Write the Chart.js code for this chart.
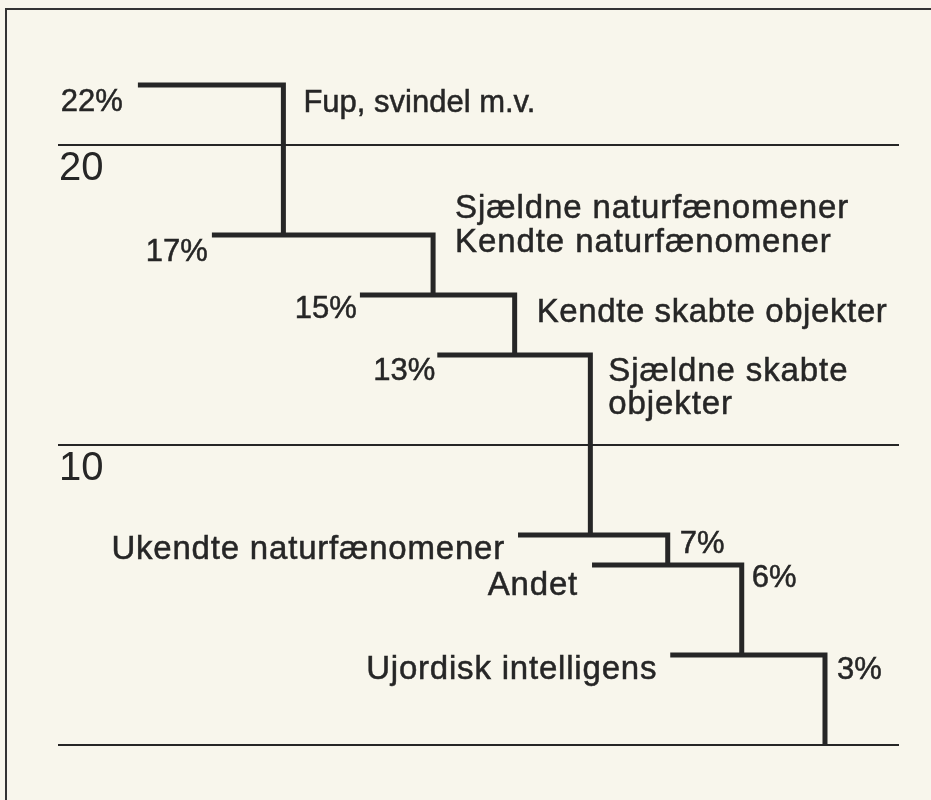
<!DOCTYPE html>
<html><head><meta charset="utf-8">
<script src="https://cdn.jsdelivr.net/npm/chart.js@4.4.1/dist/chart.umd.min.js"></script>
<style>html,body{margin:0;padding:0;background:#f8f6ec;} #wrap{width:931px;height:800px;position:relative}</style>
</head><body><div id="wrap"><canvas id="c" width="931" height="800"></canvas></div>
<script>
// ---- data ----
const values = [22, 17, 15, 13, 7, 6, 3];
const percentLabels = ['22%', '17%', '15%', '13%', '7%', '6%', '3%'];
const categories = [
  ['Fup, svindel m.v.'],
  ['Sjældne naturfænomener', 'Kendte naturfænomener'],
  ['Kendte skabte objekter'],
  ['Sjældne skabte', 'objekter'],
  ['Ukendte naturfænomener'],
  ['Andet'],
  ['Ujordisk intelligens']
];
// horizontal extent of each step (abstract 0-100 units, no meaning on x)
const stepFrom = [9.5, 18.3, 35.9, 45.1, 54.7, 63.5, 72.8];
const stepTo   = [26.8, 44.6, 54.3, 63.3, 72.5, 81.3, 91.2];
const yTickValues = [0, 10, 20];
const yTickLabels = ['', '10', '20'];

// ---- styles / layout ----
const INK = '#262626';
const FONT = '"Liberation Sans", Arial, Helvetica, sans-serif';
// label placement: pct side, gap, dy ; category side, gap, dys, font size, spacing
const place = [
  {p:'left', pg:15, pdy:26, c:'right', cg:20, cdy:[27], fs:31, ls:0},
  {p:'left', pg:4,  pdy:26, c:'right', cg:22, cdy:[-17, 17], fs:33, ls:0.9},
  {p:'left', pg:3,  pdy:23, c:'right', cg:22, cdy:[27], fs:33, ls:0.6},
  {p:'left', pg:2,  pdy:25, c:'right', cg:18, cdy:[26, 59], fs:33, ls:0.9},
  {p:'right', pg:12, pdy:18, c:'left', cg:13, cdy:[24], fs:33, ls:0.8},
  {p:'right', pg:10, pdy:22, c:'left', cg:14, cdy:[30], fs:33, ls:0.8},
  {p:'right', pg:12, pdy:24, c:'left', cg:13, cdy:[24], fs:33, ls:0.8}
];

const datasets = values.map((v, i) => ({
  data: [
    {x: stepFrom[i], y: v},
    {x: stepTo[i], y: v},
    {x: stepTo[i], y: i + 1 < values.length ? values[i + 1] : 0}
  ],
  showLine: true,
  borderColor: INK,
  borderWidth: 5,
  pointRadius: 0,
  borderJoinStyle: 'miter',
  borderCapStyle: 'butt',
  tension: 0,
  clip: false
}));

const paperPlugin = {
  id: 'paper',
  beforeDraw(chart) {
    const ctx = chart.ctx;
    ctx.save();
    ctx.fillStyle = '#f8f6ec';
    ctx.fillRect(0, 0, chart.width, chart.height);
    ctx.strokeStyle = '#333';
    ctx.lineWidth = 2;
    ctx.beginPath();
    ctx.moveTo(6, 800);
    ctx.lineTo(6, 9);
    ctx.lineTo(931, 9);
    ctx.stroke();
    ctx.restore();
  }
};

function inkText(ctx, s, x, y) {
  ctx.fillText(s, x, y);
  ctx.strokeText(s, x, y);
}

const labelPlugin = {
  id: 'stepLabels',
  afterDatasetsDraw(chart) {
    const ctx = chart.ctx;
    const xs = chart.scales.x, ys = chart.scales.y;
    ctx.save();
    ctx.fillStyle = INK;
    ctx.strokeStyle = INK;
    ctx.lineWidth = 0.5;
    ctx.textBaseline = 'alphabetic';
    values.forEach((v, i) => {
      const cfg = place[i];
      const yPix = ys.getPixelForValue(v);
      const xL = xs.getPixelForValue(stepFrom[i]);
      const xR = xs.getPixelForValue(stepTo[i]);
      ctx.font = '31px ' + FONT;
      ctx.letterSpacing = '0px';
      if (cfg.p === 'left') { ctx.textAlign = 'right'; inkText(ctx, percentLabels[i], xL - cfg.pg, yPix + cfg.pdy); }
      else { ctx.textAlign = 'left'; inkText(ctx, percentLabels[i], xR + cfg.pg, yPix + cfg.pdy); }
      ctx.font = cfg.fs + 'px ' + FONT;
      ctx.letterSpacing = cfg.ls + 'px';
      categories[i].forEach((line, k) => {
        if (cfg.c === 'right') { ctx.textAlign = 'left'; inkText(ctx, line, xR + cfg.cg, yPix + cfg.cdy[k]); }
        else { ctx.textAlign = 'right'; inkText(ctx, line, xL - cfg.cg, yPix + cfg.cdy[k]); }
      });
    });
    ctx.restore();
  }
};

new Chart(document.getElementById('c'), {
  type: 'scatter',
  data: { datasets },
  options: {
    responsive: false,
    animation: false,
    layout: { padding: { left: 56, right: 32, top: 21.2, bottom: 22.8 } },
    plugins: { legend: { display: false }, tooltip: { enabled: false } },
    scales: {
      x: { type: 'linear', display: false, min: 0, max: 100 },
      y: {
        type: 'linear', min: -1, max: 24,
        afterBuildTicks: (ax) => { ax.ticks = yTickValues.map(v => ({ value: v })); },
        grid: { color: INK, lineWidth: 2, drawTicks: false },
        border: { display: false },
        ticks: {
          mirror: true, padding: 1, labelOffset: 24,
          color: INK, font: { family: FONT, size: 40 },
          callback: (val) => { const k = yTickValues.indexOf(val); return k >= 0 ? yTickLabels[k] : ''; }
        }
      }
    }
  },
  plugins: [paperPlugin, labelPlugin]
});
</script></body></html>
